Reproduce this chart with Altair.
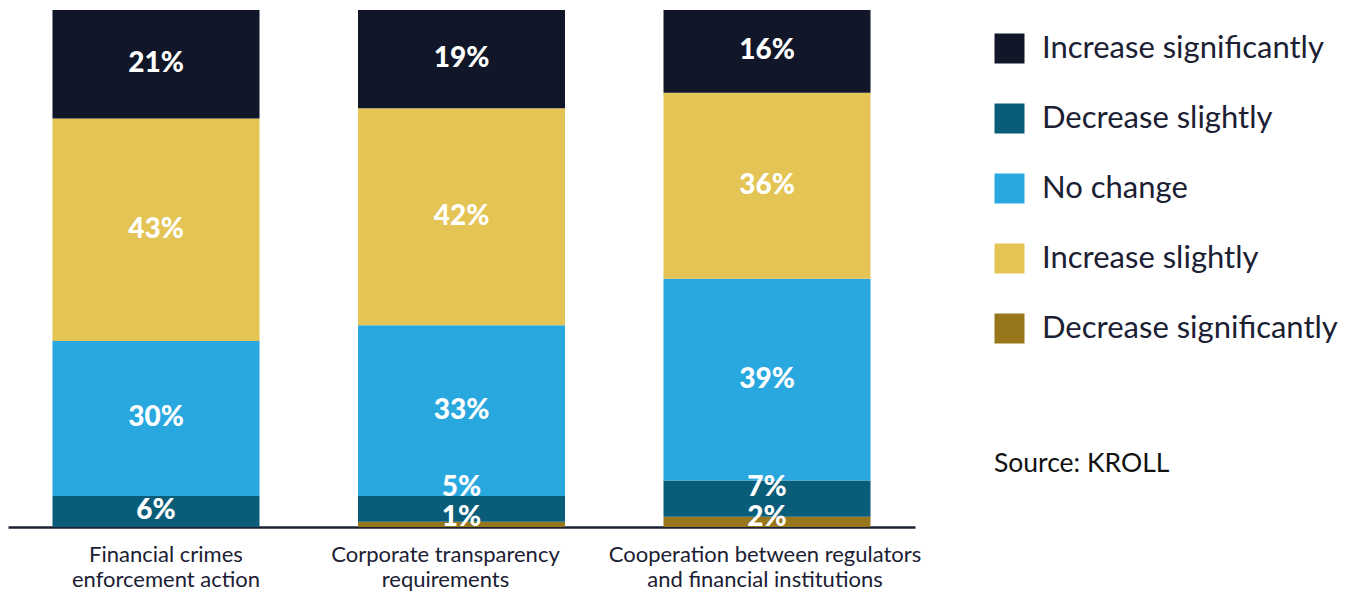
import altair as alt
import pandas as pd

categories = ["Financial crimes\nenforcement action",
              "Corporate transparency\nrequirements",
              "Cooperation between regulators\nand financial institutions"]
# stacking order bottom -> top
stack_order = ["Decrease significantly", "Decrease slightly", "No change",
               "Increase slightly", "Increase significantly"]
dec_sig = [0, 1, 2]
dec_sl = [6, 5, 7]
no_change = [30, 33, 39]
inc_sl = [43, 42, 36]
inc_sig = [21, 19, 16]

legend_order = ["Increase significantly", "Decrease slightly", "No change",
                "Increase slightly", "Decrease significantly"]
colors = {"Increase significantly": "#111628", "Decrease slightly": "#0a5d79",
          "No change": "#29a8e0", "Increase slightly": "#e3c454",
          "Decrease significantly": "#98761b"}

series = [dec_sig, dec_sl, no_change, inc_sl, inc_sig]
rows = []
for ci, cat in enumerate(categories):
    start = 0
    prev_label = -10
    for si, name in enumerate(stack_order):
        v = series[si][ci]
        end = start + v
        mid = (start + end) / 2
        lab = max(mid, prev_label + 5.8, 1.8)
        if v > 0:
            prev_label = lab
        rows.append({"cat": cat, "resp": name, "value": v, "y0": start, "y1": end,
                     "order": si, "labpos": lab,
                     "label": f"{v}%" if v > 0 else ""})
        start = end
df = pd.DataFrame(rows)

FONT = "Lato"
x_enc = alt.X("cat:N", sort=categories, title=None,
              scale=alt.Scale(paddingInner=0.3224, paddingOuter=0.1456),
              axis=alt.Axis(labelExpr="split(datum.value, '\\n')", labelAngle=0,
                            labelFontSize=22, labelFont=FONT, labelColor="#1b2033",
                            labelPadding=17, labelLineHeight=25, ticks=False,
                            labelLimit=600,
                            labelOffset={"condition": [
                                {"test": "indexof(datum.value, 'Financial') == 0", "value": 10},
                                {"test": "indexof(datum.value, 'Corporate') == 0", "value": -16}],
                                "value": -2},
                            domainColor="#1b2033", domainWidth=2.5))

bars = alt.Chart(df).mark_bar().encode(
    x=x_enc,
    y=alt.Y("y0:Q", scale=alt.Scale(domain=[0, 100], nice=False), axis=None),
    y2="y1:Q",
    color=alt.Color("resp:N", scale=alt.Scale(domain=legend_order,
                    range=[colors[k] for k in legend_order]),
                    legend=alt.Legend(title=None, orient="none", legendX=986, legendY=23,
                                      symbolType="square", symbolSize=900,
                                      symbolStrokeWidth=0, labelFontSize=31,
                                      labelFont=FONT, labelColor="#1b2033",
                                      labelOffset=17, rowPadding=38,
                                      labelLimit=400)),
)

labels = alt.Chart(df).transform_filter("datum.value > 0").mark_text(
    color="white", fontSize=28, fontWeight=900, font=FONT, baseline="middle"
).encode(
    x=alt.X("cat:N", sort=categories),
    y=alt.Y("labpos:Q"),
    text="label:N",
)

source = alt.Chart(pd.DataFrame({"t": ["Source: KROLL"]})).mark_text(
    align="left", baseline="middle", fontSize=26.5, font=FONT, color="#111111"
).encode(x=alt.value(986), y=alt.value(454), text="t:N")

chart = alt.layer(bars, labels, source).properties(
    width=907, height=517,
    padding={"left": 0, "top": 2, "right": 5, "bottom": 5},
).configure(font=FONT).configure_view(stroke=None, strokeWidth=0)

chart.save("out.html", embed_options={"renderer": "svg", "actions": False})
